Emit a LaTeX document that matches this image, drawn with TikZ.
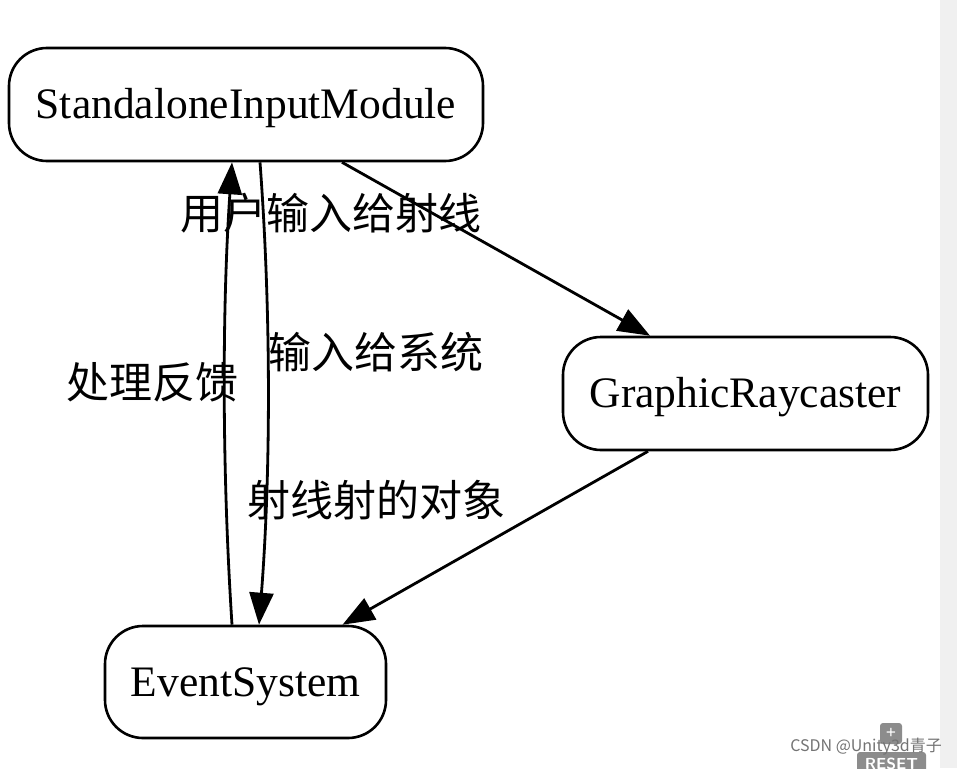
\documentclass[tikz,border=0pt]{standalone}
\usepackage{fontspec}
\setmainfont{Liberation Serif}
\newfontfamily\cjk{Noto Sans CJK SC}
\usetikzlibrary{arrows.meta,calc}
\begin{document}
\begin{tikzpicture}[x=1pt,y=-1pt,
  box/.style={draw=black,line width=2.6pt,rounded corners=38pt,inner sep=0pt,
    text height=30pt,text depth=1.5pt,
    font=\fontsize{43.5}{50}\selectfont},
  edge/.style={line width=2.8pt,-{Triangle[length=32pt,width=24pt]}},
  lbl/.style={font=\cjk\fontsize{43}{48}\selectfont,inner sep=0pt}]
\useasboundingbox (0,0) rectangle (957,768);
\fill[white] (0,0) rectangle (957,768);
\fill[black!6] (940,0) rectangle (957,768);

\node[box,minimum width=474pt,minimum height=113pt] (sim) at (246,104.5) {StandaloneInputModule};
\node[box,minimum width=365pt,minimum height=113pt] (gr) at (745.5,393.5) {GraphicRaycaster};
\node[box,minimum width=281pt,minimum height=112pt] (es) at (245.5,682) {EventSystem};

\draw[edge] ([xshift=14pt]sim.south) .. controls (271,310) and (271,470) .. ([xshift=13.5pt]es.north);
\draw[edge] ([xshift=-13.5pt]es.north) .. controls (222,470) and (222,310) .. ([xshift=-14pt]sim.south);
\draw[edge] ($(sim.south)+(96,0)$) -- ($(gr.north)+(-95.5,0)$);
\draw[edge] ($(gr.south)+(-97.5,0)$) -- ($(es.north)+(97,0)$);

\node[lbl] (l1) at (331,213) {用户输入给射线};
\node[lbl] (l2) at (376,352) {输入给系统};
\node[lbl] (l3) at (152,382) {处理反馈};
\node[lbl] (l4) at (376,500) {射线射的对象};

% watermark / overlay
\fill[black!45,rounded corners=3pt] (880,723) rectangle (902,744);
\node[white,font=\bfseries\fontsize{18}{18}\selectfont,inner sep=0pt] (plus) at (891,733.5) {+};
\fill[black!45,rounded corners=3pt] (857,752) rectangle (926,775);
\node[white,font=\sffamily\bfseries\fontsize{16}{16}\selectfont,inner sep=0pt] (reset) at (891.5,764) {RESET};
\node[black!55,font=\cjk\fontsize{16}{18}\selectfont,inner sep=0pt,anchor=east] (wm) at (942,747) {CSDN @Unity3d青子};
\end{tikzpicture}
\end{document}
